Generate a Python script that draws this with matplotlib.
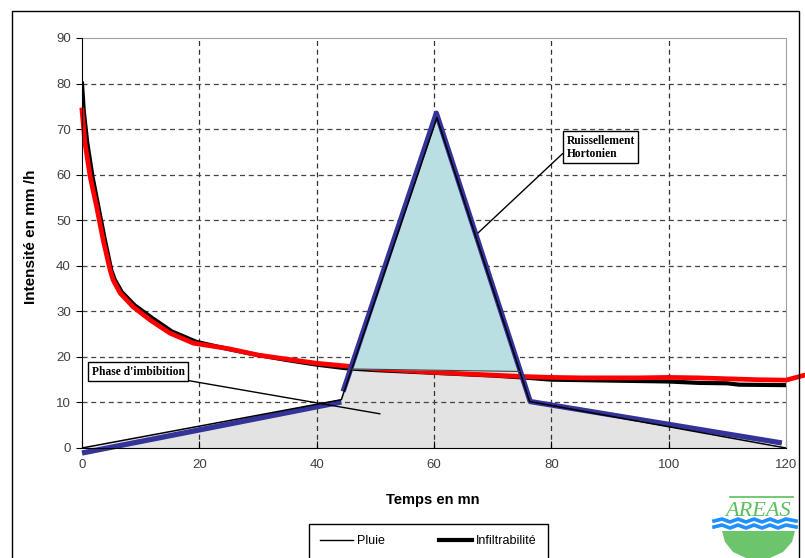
import matplotlib

matplotlib.use("Agg")
import numpy as np
from matplotlib import pyplot as plt
from matplotlib.lines import Line2D
from matplotlib.patches import Polygon, Rectangle

# rainfall hyetograph (Pluie), minutes / mm/h
rain_t = [0, 44.2, 60.5, 76.3, 120]
rain_y = [0, 10.6, 72.5, 10.2, 0]

# infiltrability (thick black)
infil_t = [0, 0.3, 0.9, 1.8, 2.8, 3.9, 5.0, 5.6, 6.8, 9.0, 12, 15.3, 19.5, 25, 30, 35,
           40, 45, 50, 55, 60, 65, 70, 75, 80, 90, 100, 105, 110, 112, 120]
infil_y = [80, 74, 67, 59.5, 52.9, 45.7, 39, 36.9, 34.2, 31.3, 28.5, 25.6, 23.3, 21.7,
           20.4, 19.3, 18.3, 17.5, 17.1, 16.8, 16.5, 16.2, 15.9, 15.5, 15.0, 14.8, 14.6,
           14.3, 14.2, 13.9, 13.8]

# fitted infiltration curve (red)
red_t = [0, 0.5, 1.4, 2.5, 3.6, 4.8, 5.3, 6.5, 8.7, 11.6, 15, 19, 25, 30, 35, 40, 45,
         50, 55, 60, 65, 70, 75, 80, 85, 90, 95, 100, 105, 110, 115, 120, 123.2]
red_y = [74.2, 67, 59.5, 52.9, 45.7, 39, 36.9, 34, 31, 28.1, 25.2, 23, 21.8, 20.4,
         19.5, 18.6, 18.0, 17.4, 17.0, 16.6, 16.3, 16.0, 15.7, 15.5, 15.4, 15.4, 15.4,
         15.5, 15.4, 15.2, 15.0, 14.9, 16.0]

# schematic rain (thick blue), two pieces
blue1_t = [0, 44.2]
blue1_y = [-1.1, 10.1]
blue2_t = [44.5, 60.4, 76.4, 119.3]
blue2_y = [12.4, 73.5, 10.2, 1.1]

# infiltration capacity level under the runoff triangle
cap_t = [0, 44, 78, 120]
cap_y = [17.4, 17.4, 16.7, 16.7]

W, H = 805, 558


def px(x, y):
    return (x / W, 1 - y / H)


fig = plt.figure(figsize=(W / 100, H / 100), dpi=100)
ax = fig.add_axes([82 / W, 1 - 448 / H, 704 / W, 410 / H])

grid = np.linspace(0, 120, 2401)
r = np.interp(grid, rain_t, rain_y)
c = np.interp(grid, cap_t, cap_y)
low = np.minimum(r, c)
ax.fill_between(grid, 0, low, color="#e3e3e3", lw=0, zorder=0.5)
ax.fill_between(grid, c, r, where=r > c, color="#b9dfe3", lw=0, zorder=4,
                interpolate=True)

ax.plot(infil_t, infil_y, color="black", lw=3, zorder=3, solid_joinstyle="round")
ax.plot(red_t, red_y, color="#ff0000", lw=3.4, zorder=3.5, clip_on=False,
        solid_joinstyle="round")
ax.plot(blue1_t, blue1_y, color="#333399", lw=3.8, zorder=5, clip_on=False,
        solid_capstyle="butt")
ax.plot(blue2_t, blue2_y, color="#333399", lw=3.8, zorder=5, clip_on=False,
        solid_capstyle="butt")
ax.plot(rain_t, rain_y, color="black", lw=1.1, zorder=6)
ax.plot([46.0, 74.6], [17.35, 16.8], color="#444444", lw=0.8, zorder=6)

ax.set_xlim(0, 120)
ax.set_ylim(0, 90)
ax.set_xticks(range(0, 121, 20))
ax.set_yticks(range(0, 91, 10))
for v in range(20, 120, 20):
    ax.axvline(v, color="#333333", lw=0.9, ls=(0, (4, 3)), zorder=1)
for v in range(10, 90, 10):
    ax.axhline(v, color="#444444", lw=0.9, ls=(0, (4, 3)), zorder=1)

for side in ("top", "right"):
    ax.spines[side].set_color("#a0a0a0")
for side in ("left", "bottom"):
    ax.spines[side].set_color("black")
    ax.spines[side].set_zorder(7)
ax.tick_params(axis="y", direction="out", length=4, labelsize=9.5,
               labelcolor="#404040", pad=4)
ax.tick_params(axis="x", direction="in", length=5, labelsize=9.5,
               labelcolor="#404040", pad=8)
for lab in ax.get_xticklabels() + ax.get_yticklabels():
    lab.set_family("Liberation Sans")

ax.set_ylabel("Intensité en mm /h", family="Liberation Sans", fontweight="bold",
              fontsize=11)
ax.yaxis.set_label_coords(-0.062, 0.515)
ax.set_xlabel("Temps en mn", family="Liberation Sans", fontweight="bold",
              fontsize=10.5)
ax.xaxis.set_label_coords(0.4986, -0.11)

box = dict(boxstyle="square,pad=0.3", fc="white", ec="black", lw=1)
ax.annotate("Phase d'imbibition", xy=(50.8, 7.5), xytext=(9.6, 16.7),
            ha="center", va="center", fontsize=8.3, fontweight="bold",
            family="Liberation Serif", bbox=box, zorder=8,
            arrowprops=dict(arrowstyle="-", color="black", lw=1,
                            shrinkA=0, shrinkB=0))
ax.annotate("Ruissellement\nHortonien", xy=(67.5, 47.2), xytext=(82.6, 66.0),
            ha="left", va="center", fontsize=8.3, fontweight="bold",
            family="Liberation Serif", bbox=box, zorder=8, linespacing=1.15,
            arrowprops=dict(arrowstyle="-", color="black", lw=1,
                            shrinkA=0, shrinkB=0, relpos=(0, 0.4)))

# legend
h1 = Line2D([], [], color="black", lw=1)
h2 = Line2D([], [], color="black", lw=3)
leg = fig.legend([h1, h2], ["Pluie", "Infiltrabilité"], ncol=2, loc="upper left",
                 bbox_to_anchor=px(309, 524), borderaxespad=0, fancybox=False,
                 edgecolor="black", framealpha=1, handlelength=2.6,
                 columnspacing=4.4, handletextpad=0.3, borderpad=0.9,
                 prop={"family": "Liberation Sans", "size": 9})
leg.get_frame().set_linewidth(1)

# outer frame
fig.add_artist(Rectangle(px(12, 565), (799 - 12) / W, (565 - 10.7) / H,
                         transform=fig.transFigure, fill=False, ec="black", lw=1,
                         clip_on=False))

# AREAS logo
logo_green = "#5cbf5c"
fig.add_artist(Line2D([px(730, 0)[0], px(793, 0)[0]], [px(0, 497)[1]] * 2,
                      color=logo_green, lw=1.2, transform=fig.transFigure))
fig.text(*px(758, 511), "AREAS", ha="center", va="center", color=logo_green,
         fontsize=16, style="italic", family="Liberation Serif")
bowl = [(722, 531), (795, 531), (792, 542), (783, 552), (770, 558), (746, 558),
        (733, 552), (725, 542)]
fig.add_artist(Polygon([px(x, y) for x, y in bowl], closed=True,
                       transform=fig.transFigure, fc="#6cc46c", ec="none"))
wave_x = [714, 722, 730, 738, 746, 754, 762, 770, 778, 786, 796]
wave_a = [521, 519, 522, 519, 522, 519, 522, 519, 522, 519, 521]
wave_b = [527, 525, 528, 525, 528, 525, 528, 525, 528, 525, 527]
for wy in (wave_a, wave_b):
    pts = [px(x, y) for x, y in zip(wave_x, wy)]
    fig.add_artist(Line2D([p[0] for p in pts], [p[1] for p in pts],
                          color="#1e90ff", lw=2.6, transform=fig.transFigure,
                          solid_joinstyle="round"))

fig.savefig("out.png", dpi=100)
